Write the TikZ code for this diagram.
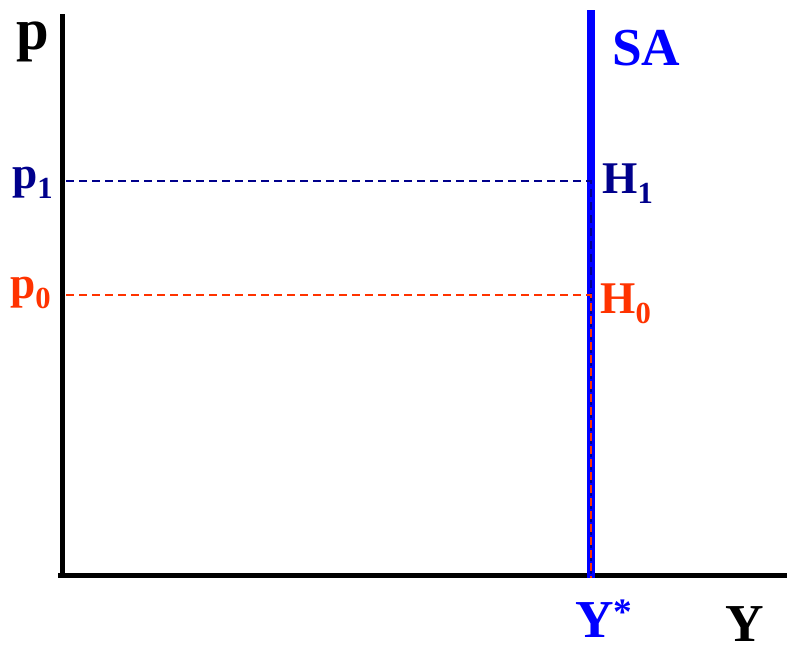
\documentclass[tikz,border=0pt]{standalone}
\usepackage{fontspec}
\setmainfont{Liberation Serif}
\usetikzlibrary{positioning}

\definecolor{navyline}{RGB}{0,0,140}
\definecolor{redline}{RGB}{255,51,0}
\definecolor{saline}{RGB}{0,0,255}
\newcommand{\lowsub}[1]{\raisebox{-7.5pt}{\fontsize{23}{23}\selectfont #1}}

\begin{document}
\begin{tikzpicture}[x=0.75pt, y=-0.75pt,
  lbl/.style={anchor=base west, inner sep=0pt, font=\bfseries},
  guide/.style={dashed, line width=1.5pt, dash pattern=on 6pt off 3.75pt}]
\useasboundingbox (0,0) rectangle (787,647);

\coordinate (origin) at (62,575);
\coordinate (ytop) at (62,14);
\coordinate (xend) at (787,575);
\coordinate (satop) at (591,10);
\coordinate (sabot) at (591,578);
\coordinate (h1) at (591,181);
\coordinate (h0) at (591,295);
\coordinate (p1axis) at (66,181);
\coordinate (p0axis) at (66,295);

% axes
\draw [line width=3.75pt] (ytop) -- (62,578);
\draw [line width=3.75pt] (58,575) -- (xend);

% supply curve
\draw [line width=6pt, saline] (satop) -- (sabot);

% price levels
\draw [guide, navyline] (p1axis) -- (h1) -- (sabot);
\draw [guide, redline] (p0axis) -- (h0) -- (sabot);

% labels
\node (plabel) [lbl, font=\bfseries\fontsize{44}{44}\selectfont] at (16,49) {p};
\node (ylabel) [lbl, font=\bfseries\fontsize{40}{40}\selectfont] at (725,641) {Y};
\node (salabel) [lbl, saline, font=\bfseries\fontsize{40}{40}\selectfont] at (612,65) {SA};
\node (ystar) [lbl, saline, font=\bfseries\fontsize{40}{40}\selectfont] at (575,637) {Y\textsuperscript{*}};
\node (p1label) [lbl, navyline, font=\bfseries\fontsize{34}{34}\selectfont] at (12,188) {p\lowsub{1}};
\node (p0label) [lbl, redline, font=\bfseries\fontsize{34}{34}\selectfont] at (10,298) {p\lowsub{0}};
\node (h1label) [lbl, navyline, font=\bfseries\fontsize{34}{34}\selectfont] at (602,193) {H\lowsub{1}};
\node (h0label) [lbl, redline, font=\bfseries\fontsize{34}{34}\selectfont] at (600,313) {H\lowsub{0}};
\end{tikzpicture}
\end{document}
